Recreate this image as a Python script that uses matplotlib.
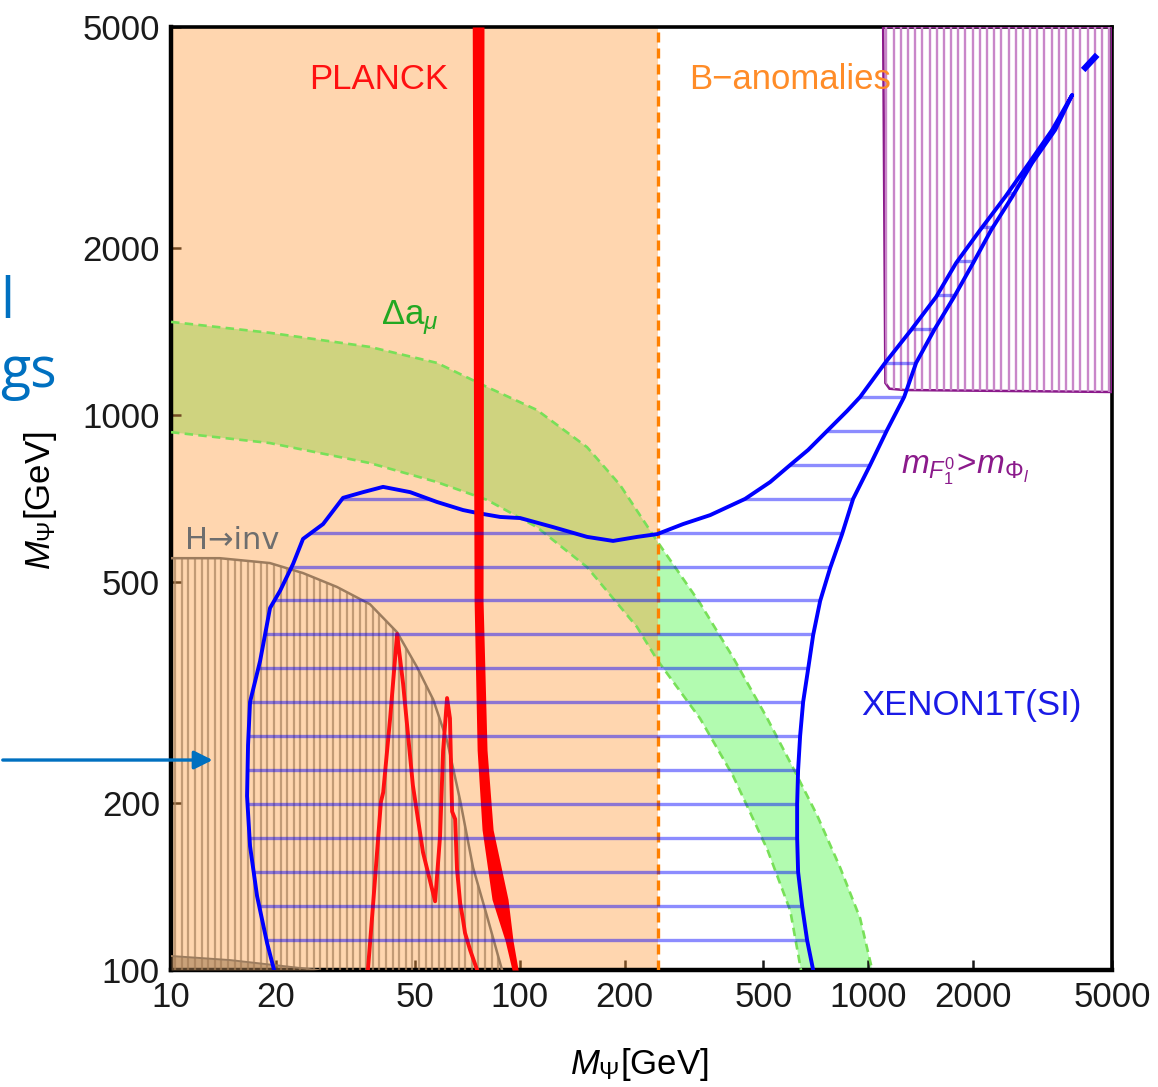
import matplotlib
matplotlib.use("Agg")
import matplotlib.pyplot as plt
import numpy as np
from matplotlib.patches import Polygon, FancyArrowPatch

plt.rcParams['font.family'] = ['Liberation Sans', 'DejaVu Sans']
plt.rcParams['mathtext.fontset'] = 'custom'
plt.rcParams['mathtext.rm'] = 'Liberation Sans'
plt.rcParams['mathtext.it'] = 'Liberation Sans:italic'
plt.rcParams['mathtext.bf'] = 'Liberation Sans:bold'

# ---- data (GeV) ----
x_ticks = [10, 20, 50, 100, 200, 500, 1000, 2000, 5000]
y_ticks = [100, 200, 500, 1000, 2000, 5000]

banom_x = 250  # B-anomalies upper bound

# Delta a_mu band
gm2_up_x = [10, 19.2, 37.2, 57.9, 80.6, 112, 156, 194, 248, 329, 409, 513, 609, 713, 830, 947, 1026]
gm2_up_y = [1471, 1406, 1326, 1241, 1123, 1021, 875, 748, 592, 458, 366, 284, 231, 190, 153, 124, 100]
gm2_lo_x = [10, 19.2, 37.2, 57.9, 80.6, 112, 156, 217, 248, 329, 409, 513, 597, 641]
gm2_lo_y = [931, 890, 819, 757, 703, 628, 532, 415, 362, 284, 224, 165, 128, 100]

# H -> inv boundary
hinv_x = [10, 13.8, 19.2, 23.9, 29.9, 37.2, 44.5, 50.8, 56.5, 61.9, 67.5, 73.5, 80.6, 89]
hinv_y = [552, 552, 541, 519, 490, 456, 406, 351, 307, 259, 202, 153, 125, 100]
hinv_low_x = [10, 14.8, 20, 26.4]
hinv_low_y = [106, 104.2, 102, 100]

# PLANCK relic band (thick) and resonance curve
planck_y = [5000, 464, 249, 179, 134, 113, 100]
planck_xl = [73.1, 74.0, 75.5, 78.0, 83.3, 90.8, 95.1]
planck_xr = [79.0, 78.5, 80.6, 83.9, 92.6, 95.7, 99.0]
peak_x = [36.7, 38.0, 39.3, 40.0, 40.6, 42.5, 44.5, 46.3, 49.4, 52.8, 57.2, 59.1, 60.3, 61.9,
          63.1, 64.0, 65.3, 66.1, 67.5, 68.8, 69.7, 72.1, 75.5]
peak_y = [100, 132, 174, 201, 209, 284, 403, 328, 215, 163, 133, 174, 248, 309,
          284, 193, 187, 152, 132, 123, 116.6, 108.6, 100]

# XENON1T (SI) excluded contour
xenon_x = [19.75, 18.86, 17.65, 16.85, 16.52, 16.63, 16.85, 18.0, 19.23, 20.54, 22.39, 23.91,
           27.3, 31.14, 35.55, 40.57, 48.5, 57.9, 68.8, 75.5, 87.9, 100.3, 124.7, 156.1, 185.3,
           217.3, 248, 294.3, 351.8, 443.2, 522.8, 596.9, 671.9, 761.7, 869.6, 947.3, 1117,
           1327, 1565, 1786, 2093, 2469, 2893, 3367, 3843, 3435, 2951, 2585, 2251, 1999, 1762,
           1545, 1371, 1267, 1132, 1012, 904.4, 841, 777, 727.4, 694.6, 671.9, 650.1, 637.3,
           628.9, 624.9, 624.9, 628.9, 645.8, 667.4, 694.6]
xenon_y = [100, 111.8, 135.9, 167.2, 205.8, 254.3, 304, 360, 449, 482, 539, 598,
           636, 709, 726, 742, 726, 697, 674, 666, 655, 652, 628, 603, 593,
           603, 610, 636, 660, 706, 757, 812.6, 864.9, 935.8, 1017, 1077.5, 1241,
           1423, 1632, 1879, 2154, 2471, 2845, 3262, 3773, 3262, 2845, 2471, 2154, 1879, 1632,
           1423, 1241, 1077.5, 939.7, 812.6, 706, 610.3, 530, 462.2, 401.3, 348.5, 304, 264,
           229.3, 199.1, 172.9, 150.2, 130.4, 113.2, 100]
xenon_tip_x = [4132, 4534]
xenon_tip_y = [4183, 4454]

# m_F > m_Phi region
purple_x = [1103, 1119, 1150, 1267, 5000, 5000]
purple_y = [5000, 1142, 1115, 1109, 1100, 5000]

fig = plt.figure(figsize=(11.58, 10.87), dpi=100)
ax = fig.add_axes([0.1477, 0.1076, 0.8126, 0.8676])
ax.set_xscale('log')
ax.set_yscale('log')
ax.set_xlim(10, 5000)
ax.set_ylim(100, 5000)

# g-2 band, orange B-anomaly region laid over it
band = Polygon(list(zip(gm2_up_x + gm2_lo_x[::-1], gm2_up_y + gm2_lo_y[::-1])),
               closed=True, facecolor='#B2FBB0', edgecolor='none', zorder=1)
ax.add_patch(band)
ax.axvspan(10, banom_x, color=(1.0, 0.59, 0.2), alpha=0.39, lw=0, zorder=2)
ax.plot(gm2_up_x, gm2_up_y, color='#78E058', lw=1.9, ls=(0, (3.2, 2.0)), zorder=3)
ax.plot(gm2_lo_x, gm2_lo_y, color='#78E058', lw=1.9, ls=(0, (3.2, 2.0)), zorder=3)
ax.axvline(banom_x, color='#FF8000', lw=2.4, ls=(0, (3.0, 1.8)), zorder=3)

# H -> inv hatched region
hpatch = Polygon(list(zip(hinv_x + [10], hinv_y + [100])), closed=True,
                 facecolor='none', edgecolor='none')
ax.add_patch(hpatch)
hatch_x = 10 ** np.arange(1.012, 2.0, 0.0189)
lc = ax.vlines(hatch_x, 100, 5000, color='#A8825F', lw=1.6, alpha=0.7, zorder=3)
lc.set_clip_path(hpatch)
ax.plot(hinv_x, hinv_y, color='#9C7C5E', lw=1.8, zorder=3)
ax.fill_between(hinv_low_x, 100, hinv_low_y, color='#A07850', alpha=0.55, lw=0, zorder=3)
ax.plot(hinv_low_x, hinv_low_y, color='#9C7C5E', lw=1.4, zorder=3)

# purple region
ppatch = Polygon(list(zip(purple_x, purple_y)), closed=True, facecolor='none',
                 edgecolor='#8B1A8B', lw=1.8, zorder=4)
ax.add_patch(ppatch)
pl = ax.vlines(10 ** np.arange(3.052, 3.699, 0.0206), 100, 5000, color='#C987C9',
               lw=1.7, zorder=4)
pl.set_clip_path(ppatch)

# XENON1T contour with horizontal hatching
xpatch = Polygon(list(zip(xenon_x, xenon_y)), closed=True, facecolor='none', edgecolor='none')
ax.add_patch(xpatch)
ax.plot(xenon_x, xenon_y, color='#0000FF', lw=2.8, zorder=5, solid_joinstyle='round')
ax.plot(xenon_tip_x, xenon_tip_y, color='#0000FF', lw=4.5, zorder=5, solid_capstyle='butt')

# PLANCK
ax.fill_betweenx(planck_y, planck_xl, planck_xr, color='#FF0000', lw=0, zorder=5.5)
ax.plot(peak_x, peak_y, color='#FF1010', lw=2.8, zorder=5.5, solid_joinstyle='round')

hl = ax.hlines(10 ** np.arange(2.0548, 3.7, 0.0611), 10, 5000, color='#0000FF', lw=2.4,
               alpha=0.45, zorder=6)
hl.set_clip_path(xpatch)

# labels in the plot
ax.text(39.3, 4015, 'PLANCK', color='#FF1010', fontsize=25, ha='center', va='center', zorder=10)
ax.text(597, 4015, 'B\u2212anomalies', color='#FF8C28', fontsize=25, ha='center', va='center', zorder=10)
ax.text(48.5, 1495, r'$\Delta\mathrm{a}_{\mu}$', color='#22A822', fontsize=25, ha='center',
        va='center', zorder=10)
ax.text(15.0, 595, 'H\u2192inv', color='#6E6E6E', fontsize=22, family='DejaVu Sans',
        ha='center', va='center', zorder=10)
ax.text(1972, 300, 'XENON1T(SI)', color='#1A1AE6', fontsize=25, ha='center', va='center', zorder=10)
ax.text(1896, 800, r'$m_{F_1^0}\!>\!m_{\Phi_l}$', color='#8B1A8B', fontsize=24, ha='center',
        va='center', zorder=10)

# axes styling
ax.set_xticks(x_ticks)
ax.set_xticklabels([str(v) for v in x_ticks])
ax.set_yticks(y_ticks)
ax.set_yticklabels([str(v) for v in y_ticks])
ax.minorticks_off()
ax.tick_params(direction='in', length=7, width=1.8, labelsize=25, pad=8,
               top=False, right=False, colors='#1A1A1A')
for side in ['left', 'bottom']:
    ax.spines[side].set_linewidth(3.2)
for side in ['top', 'right']:
    ax.spines[side].set_linewidth(2.6)

ax.set_xlabel(r'$M_{\Psi}$[GeV]', fontsize=25)
ax.xaxis.set_label_coords(0.498, -0.1)
ax.xaxis.label.set_va('center')
ax.set_ylabel(r'$M_{\Psi}$[GeV]', fontsize=25)
ax.yaxis.set_label_coords(-0.139, 0.498)
ax.yaxis.label.set_va('center')

# slide remnants on the left edge
fig.text(0.0, 0.707, 'l', color='#0070C0', fontsize=40, family='Open Sans', va='baseline')
fig.text(0.0, 0.644, 'gs', color='#0070C0', fontsize=40, family='Open Sans', va='baseline')
arrow = FancyArrowPatch((0.0, 0.3008), (0.186, 0.3008), transform=fig.transFigure,
                        arrowstyle='-|>', mutation_scale=28, lw=2.4, color='#0070C0')
fig.add_artist(arrow)

fig.savefig('out.png', dpi=100)
